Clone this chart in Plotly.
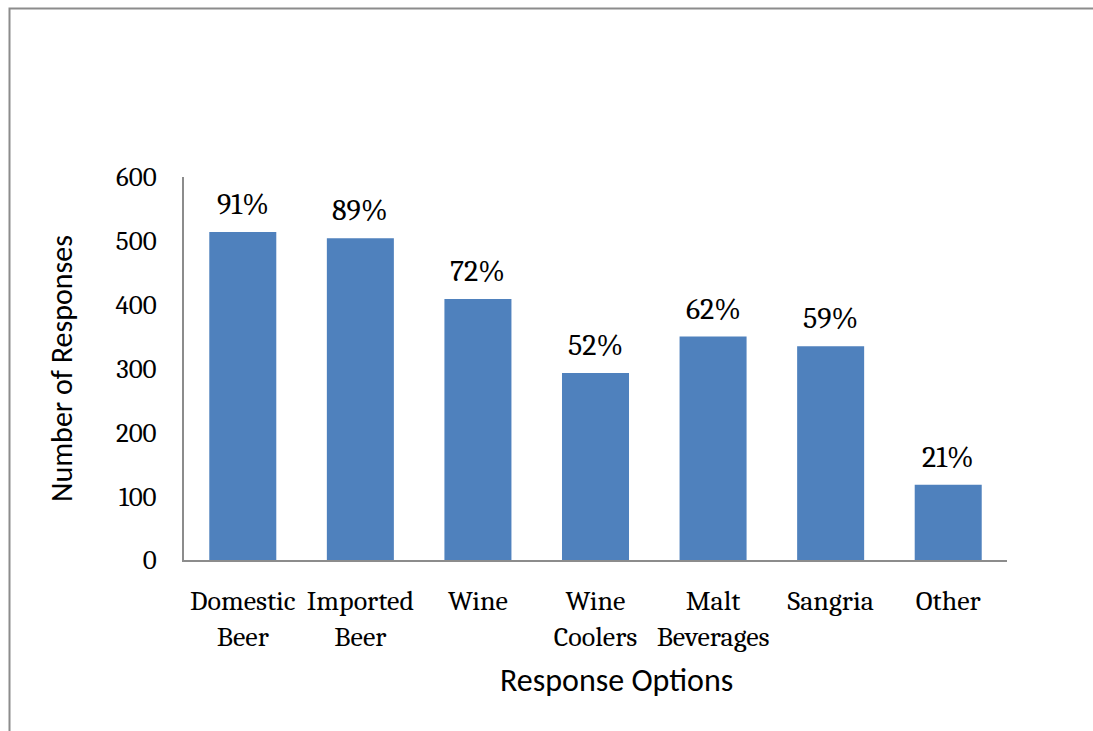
import plotly.graph_objects as go

categories = ["Domestic<br>Beer", "Imported<br>Beer", "Wine", "Wine<br>Coolers",
              "Malt<br>Beverages", "Sangria", "Other"]
responses = [514, 504, 409, 293, 350, 335, 118]
percent_labels = ["91%", "89%", "72%", "52%", "62%", "59%", "21%"]
y_ticks = [0, 100, 200, 300, 400, 500, 600]

SERIF = "Cambria, Caladea, 'DejaVu Serif', serif"
SANS = "Calibri, Carlito, 'Open Sans', sans-serif"

fig = go.Figure()
fig.add_trace(go.Bar(
    x=categories, y=responses,
    marker=dict(color="#4f81bd", line=dict(width=0)),
    width=0.57,
))

L, R, T, B = 184, 86, 177, 171
W, H = 1093, 731
pw, ph = W - L - R, H - T - B

def px_x(p):
    return (p - L) / pw

def px_y(p):
    return (H - B - p) / ph

annotations = [
    dict(x=c, y=v, xref="x", yref="y", text=t, showarrow=False,
         yanchor="bottom", yshift=8,
         font=dict(family=SERIF, size=30, color="#000000"))
    for c, v, t in zip(categories, responses, percent_labels)
]
annotations.append(dict(
    x=px_x(616), y=px_y(680), xref="paper", yref="paper",
    text="Response Options", showarrow=False, xanchor="center", yanchor="middle",
    font=dict(family=SANS, size=32, color="#000000"),
))

fig.update_layout(
    width=W, height=H,
    margin=dict(l=L, r=R, t=T, b=B),
    paper_bgcolor="white", plot_bgcolor="white",
    showlegend=False,
    bargap=0.43,
    xaxis=dict(
        showgrid=False, showline=True, linecolor="#8c8c8c", linewidth=2,
        ticks="outside", ticklen=14, tickcolor="rgba(0,0,0,0)",
        tickfont=dict(family=SERIF, size=28, color="#000000"),
    ),
    yaxis=dict(
        range=[0, 600], tickvals=y_ticks,
        showgrid=False, showline=True, linecolor="#8c8c8c", linewidth=2,
        ticks="outside", ticklen=20, tickcolor="rgba(0,0,0,0)",
        tickfont=dict(family=SERIF, size=27, color="#000000"),
        title=dict(text="Number of Responses", font=dict(family=SANS, size=30, color="#000000"), standoff=34),
        zeroline=False,
    ),
    annotations=annotations,
    shapes=[dict(
        type="rect", xref="paper", yref="paper",
        x0=px_x(9.5), x1=px_x(1110), y0=px_y(740), y1=px_y(8.5),
        line=dict(color="#8c8c8c", width=2), fillcolor="rgba(0,0,0,0)", layer="below",
    )],
)

fig.write_html("out.html")
